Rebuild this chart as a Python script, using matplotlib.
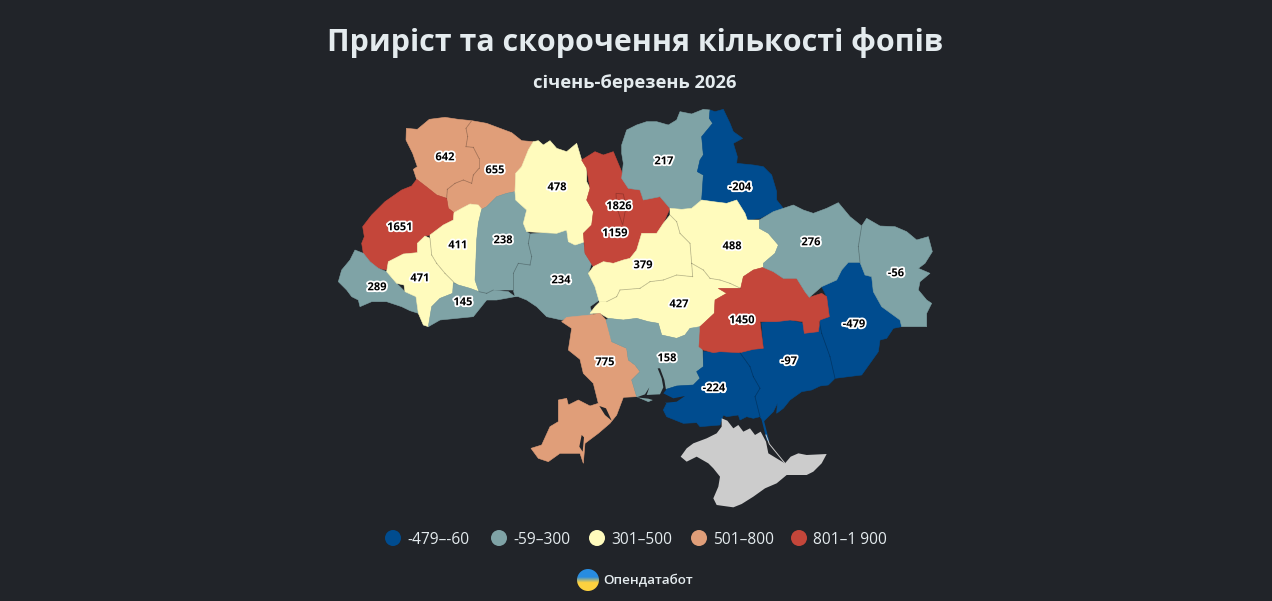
import numpy as np
import matplotlib
matplotlib.use("Agg")
import matplotlib.pyplot as plt
import matplotlib.patheffects as pe
from matplotlib.patches import Circle, Polygon


def crop(x0, y0, pts):
    return [(x0 + x / 3, y0 + y / 3) for x, y in pts]


def west(pts):
    return crop(330, 100, pts)


def east(pts):
    return crop(620, 100, pts)


def south(pts):
    return crop(520, 300, pts)


regions = ["Volyn", "Rivne", "Lviv", "Zakarpattia", "Ivano-Frankivsk", "Ternopil", "Chernivtsi",
           "Khmelnytskyi", "Vinnytsia", "Zhytomyr", "Kyiv oblast", "Kyiv", "Chernihiv", "Sumy",
           "Poltava", "Cherkasy", "Kirovohrad", "Odesa", "Mykolaiv", "Kherson", "Zaporizhzhia",
           "Donetsk", "Dnipropetrovsk", "Kharkiv", "Luhansk"]
values = [642, 655, 1651, 289, 471, 411, 145, 238, 234, 478, 1159, 1826, 217, -204,
          488, 379, 427, 775, 158, -224, -97, -479, 1450, 276, -56]
label_pos = [(445, 157), (495, 170), (400, 227), (377, 287), (420, 278), (458, 245), (463, 302),
             (503, 240), (561, 280), (557, 187), (615, 233), (619, 206), (664, 161), (740, 187),
             (732, 246), (643, 265), (679, 304), (811, 242), (896, 273), (605, 362), (667, 358),
             (714, 388), (789, 361), (854, 324), (742, 320)]
label_names = ["Volyn", "Rivne", "Lviv", "Zakarpattia", "Ivano-Frankivsk", "Ternopil", "Chernivtsi",
               "Khmelnytskyi", "Vinnytsia", "Zhytomyr", "Kyiv oblast", "Kyiv", "Chernihiv", "Sumy",
               "Poltava", "Cherkasy", "Kirovohrad", "Kharkiv", "Luhansk", "Odesa", "Mykolaiv",
               "Kherson", "Zaporizhzhia", "Donetsk", "Dnipropetrovsk"]

bin_tops = [-60, 300, 500, 800, 1900]
bin_colors = ["#004c8f", "#7fa3a6", "#fffbbd", "#e09e79", "#c4463a"]
bin_labels = ["-479–-60", "-59–300", "301–500", "501–800", "801–1 900"]
legend_x = [393, 499, 597, 699, 799]

outlines = {
    "Volyn": west([(229, 85), (262, 88), (298, 58), (345, 52), (385, 58), (425, 62), (408, 85), (413, 110),
                   (408, 140), (430, 142), (447, 175), (447, 205), (430, 225), (425, 250), (400, 240), (375, 250),
                   (352, 268), (350, 295), (320, 285), (295, 265), (260, 238), (250, 208), (262, 200), (248, 160),
                   (228, 120)]),
    "Rivne": west([(425, 62), (470, 70), (510, 85), (545, 98), (575, 122), (610, 125), (595, 150), (575, 200),
                   (557, 220), (555, 275), (530, 280), (500, 290), (470, 320), (455, 328), (445, 315), (420, 312),
                   (395, 325), (372, 338), (355, 325), (350, 295), (352, 268), (375, 250), (400, 240), (425, 250),
                   (430, 225), (447, 205), (447, 175), (430, 142), (408, 140), (413, 110), (408, 85)]),
    "Lviv": west([(260, 238), (295, 265), (320, 285), (350, 295), (355, 325), (372, 338), (370, 360), (340, 375),
                  (300, 405), (285, 408), (262, 430), (262, 458), (220, 462), (175, 485), (170, 510), (145, 505),
                  (120, 485), (100, 460), (95, 430), (103, 410), (98, 380), (125, 345), (165, 305), (215, 270),
                  (245, 258)]),
    "Zakarpattia": west([(75, 450), (100, 460), (120, 485), (145, 505), (170, 515), (200, 550), (225, 575),
                         (258, 590), (265, 640), (240, 632), (215, 620), (170, 605), (125, 605), (90, 620), (85, 600),
                         (65, 590), (50, 570), (25, 545), (35, 510), (60, 480)]),
    "Ivano-Frankivsk": west([(175, 485), (220, 462), (262, 458), (262, 430), (285, 408), (300, 415), (305, 465),
                             (320, 490), (345, 520), (370, 545), (368, 580), (330, 595), (305, 620), (295, 680),
                             (280, 675), (265, 640), (258, 590), (225, 575), (222, 555), (200, 550), (170, 515)]),
    "Ternopil": west([(300, 405), (340, 375), (370, 360), (372, 338), (395, 325), (420, 312), (445, 315),
                      (455, 328), (445, 370), (440, 420), (437, 500), (435, 540), (447, 575), (420, 565),
                      (385, 555), (370, 545), (345, 520), (320, 490), (305, 465), (300, 415)]),
    "Chernivtsi": west([(370, 548), (385, 555), (420, 565), (447, 575), (470, 580), (490, 570), (535, 575),
                        (555, 590), (500, 600), (470, 600), (430, 650), (380, 655), (330, 660), (295, 680),
                        (305, 620), (330, 595), (368, 580)]),
    "Khmelnytskyi": west([(455, 328), (470, 320), (500, 290), (530, 280), (555, 275), (557, 300), (590, 330),
                          (580, 370), (590, 395), (600, 402), (595, 430), (605, 470), (600, 495), (565, 490),
                          (550, 520), (550, 570), (490, 570), (470, 580), (447, 575), (435, 540), (437, 500),
                          (440, 420), (445, 370)]),
    "Vinnytsia": west([(600, 402), (640, 398), (680, 400), (710, 390), (715, 425), (735, 435), (760, 420),
                       (765, 460), (785, 490), (775, 520), (795, 560), (808, 600), (780, 620), (790, 650),
                       (750, 665), (720, 655), (695, 660), (650, 650), (620, 620), (590, 600), (565, 590),
                       (555, 590), (550, 570), (550, 520), (565, 490), (600, 495), (605, 470), (595, 430)]),
    "Zhytomyr": west([(610, 125), (625, 122), (640, 135), (660, 122), (680, 145), (710, 155), (740, 130),
                      (755, 180), (770, 205), (770, 245), (780, 265), (770, 300), (790, 335), (785, 375),
                      (760, 400), (765, 425), (735, 435), (715, 425), (710, 390), (680, 400), (640, 398),
                      (590, 395), (580, 370), (590, 330), (557, 300), (555, 275), (557, 220), (575, 200),
                      (595, 150)]),
    "Kyiv oblast": west([(755, 180), (795, 155), (820, 165), (850, 155), (875, 215), (895, 265)])
    + east([(25, 265), (60, 270), (70, 300), (120, 290), (150, 325), (130, 370), (110, 400), (65, 400),
            (50, 450), (30, 475)])
    + west([(880, 480), (850, 490), (820, 485), (790, 500), (765, 460), (760, 400), (785, 375), (790, 335),
            (770, 300), (780, 265), (770, 205)]),
    "Kyiv": west([(858, 280), (880, 282), (888, 320), (878, 375), (868, 345), (860, 320)]),
    "Chernihiv": east([(5, 135), (20, 90), (50, 75), (80, 65), (110, 65), (145, 75), (170, 60), (180, 35),
                       (215, 42), (250, 28), (270, 30), (268, 55), (278, 70), (245, 110), (250, 165), (240, 180),
                       (232, 215), (250, 225), (245, 300), (215, 325), (185, 328), (150, 325), (120, 290),
                       (70, 300), (60, 270), (25, 265), (5, 235), (10, 190), (5, 160)]),
    "Sumy": east([(270, 30), (285, 35), (310, 28), (330, 70), (340, 95), (368, 115), (340, 130), (352, 170),
                  (350, 190), (400, 195), (430, 200), (455, 225), (470, 275), (470, 300), (490, 325), (460, 335),
                  (420, 355), (382, 360), (375, 340), (350, 300), (320, 310), (280, 305), (245, 300), (250, 225),
                  (232, 215), (240, 180), (250, 165), (245, 110), (278, 70), (268, 55)]),
    "Poltava": east([(150, 325), (185, 328), (215, 325), (245, 300), (280, 305), (320, 310), (350, 300), (375, 340),
                     (382, 360), (418, 360), (418, 385), (445, 400), (475, 435), (465, 460), (430, 490), (430, 502),
                     (400, 510), (370, 530), (362, 565), (330, 550), (300, 540), (270, 535), (250, 510), (215, 490),
                     (210, 430), (180, 400), (170, 365), (150, 345)]),
    "Cherkasy": east([(150, 345), (170, 365), (180, 400), (210, 430), (215, 490), (218, 530), (170, 525),
                      (130, 540), (90, 545), (60, 565)])
    + west([(930, 565), (870, 570), (860, 590), (830, 605), (808, 605), (795, 560), (775, 520), (790, 500),
            (820, 485), (850, 490), (880, 480)])
    + east([(30, 475), (50, 450), (65, 400), (110, 400), (130, 370)]),
    "Kirovohrad": east([(218, 530), (215, 490), (250, 510), (270, 535), (300, 540), (330, 550), (362, 565),
                        (295, 565), (320, 580), (285, 600), (283, 640), (240, 680)])
    + south([(530, 85), (510, 85), (495, 105), (470, 115), (425, 105), (415, 70), (385, 65), (350, 55), (310, 60),
             (265, 55), (240, 40), (210, 40), (225, 20), (240, 5)])
    + west([(830, 605), (860, 590), (870, 570), (930, 565)])
    + east([(60, 565), (90, 545), (130, 540), (170, 525)]),
    "Odesa": south([(125, 65), (140, 52), (210, 45), (240, 40), (258, 60), (275, 110), (275, 125), (320, 145),
                    (325, 180), (345, 195), (360, 215), (335, 240), (350, 290), (310, 292), (290, 345), (270, 370),
                    (235, 400), (195, 430), (190, 490), (180, 460), (120, 460), (85, 485), (55, 475), (33, 445),
                    (65, 435), (90, 380), (115, 365), (115, 300), (140, 295), (145, 315), (175, 300), (210, 318),
                    (235, 310), (220, 250), (190, 220), (180, 178), (145, 150), (155, 85)]),
    "Mykolaiv": south([(265, 55), (310, 60), (350, 55), (385, 65), (415, 70), (425, 105), (470, 115), (495, 105),
                       (510, 85), (540, 80), (548, 155), (550, 200), (530, 215), (540, 235), (520, 255), (470, 258),
                       (432, 270), (420, 290), (385, 305), (350, 290), (335, 240), (360, 215), (345, 195), (325, 180),
                       (320, 145), (275, 125), (258, 60)]),
    "Kherson": south([(550, 155), (600, 155), (660, 158), (690, 200), (700, 230), (720, 265), (705, 290), (720, 350),
                      (700, 355), (680, 350), (660, 360), (655, 345), (620, 350), (610, 345), (600, 375), (540, 380),
                      (530, 368), (490, 370), (440, 350), (430, 330), (440, 310), (420, 290), (432, 270), (470, 258),
                      (520, 255), (540, 235), (530, 215), (550, 200)]),
    "Zaporizhzhia": south([(725, 68), (770, 60), (810, 60), (850, 70), (860, 95), (895, 95), (898, 65), (905, 100),
                           (930, 170), (945, 235), (925, 255), (900, 258), (875, 270), (845, 275), (810, 300),
                           (790, 325), (770, 340), (772, 310), (760, 335), (730, 365), (720, 350), (705, 290),
                           (720, 265), (700, 230), (690, 200), (660, 158), (700, 148), (730, 145)]),
    "Donetsk": east([(605, 560), (650, 540), (665, 510), (685, 487), (720, 487), (735, 525), (755, 530), (760, 575),
                     (785, 620), (840, 660), (845, 680), (820, 685), (800, 715), (780, 720), (775, 755), (725, 825),
                     (645, 835)])
    + south([(945, 235), (930, 170), (905, 100), (898, 65), (900, 55)])
    + east([(600, 660), (628, 650), (620, 590)]),
    "Dnipropetrovsk": east([(295, 565), (362, 565), (370, 530), (400, 510), (430, 502), (460, 515), (490, 535),
                            (530, 535), (555, 575), (568, 592), (605, 580), (620, 590), (628, 650), (600, 660),
                            (595, 695), (553, 700), (548, 665), (510, 660), (470, 665), (420, 665)])
    + south([(730, 145), (700, 148), (660, 158), (600, 155), (580, 158), (550, 150), (537, 140), (540, 95), (540, 80)])
    + east([(283, 640), (285, 600), (320, 580)]),
    "Kharkiv": east([(418, 360), (460, 335), (490, 325), (520, 315), (550, 330), (580, 340), (620, 325), (655, 308),
                     (690, 350), (725, 378), (715, 440), (720, 487), (685, 487), (665, 510), (650, 540), (605, 560),
                     (568, 592), (555, 575), (530, 535), (490, 535), (460, 515), (430, 502), (430, 490), (465, 460),
                     (475, 435), (445, 400), (418, 385)]),
    "Luhansk": east([(725, 378), (740, 355), (780, 378), (825, 380), (860, 395), (890, 420), (925, 410), (937, 455),
                     (915, 490), (895, 505), (930, 520), (900, 545), (895, 570), (920, 600), (935, 610), (920, 640),
                     (920, 680), (845, 680), (840, 660), (785, 620), (760, 575), (755, 530), (735, 525), (720, 487),
                     (715, 440)]),
}

crimea = south([(605, 355), (622, 362), (640, 385), (655, 375), (670, 395), (690, 385), (705, 405), (722, 395),
                (738, 425), (745, 460), (778, 480), (795, 490), (812, 470), (835, 460), (860, 465), (920, 462),
                (905, 490), (880, 515), (860, 525), (800, 525), (770, 550), (735, 565), (700, 590), (665, 612),
                (640, 622), (590, 615), (580, 595), (595, 560), (600, 530), (580, 505), (565, 490), (530, 470),
                (500, 485), (482, 470), (500, 445), (520, 430), (560, 415), (590, 400), (605, 380)])
water = [
    south([(350, 292), (375, 283), (388, 262), (380, 285), (420, 283), (430, 262), (425, 235), (413, 205), (420, 205),
           (433, 240), (438, 270), (430, 280), (460, 295), (495, 288), (470, 305), (440, 308), (415, 305), (385, 296)]),
    south([(238, 318), (258, 325), (275, 362), (255, 345)]),
    south([(185, 405), (192, 412), (188, 455), (178, 440)]),
]
spit = south([(725, 360), (732, 362), (748, 425), (740, 420)])
arabat = south([(738, 405), (748, 432), (795, 490)])

bg = "#212429"
text_col = "#e4ebee"

plt.rcParams["font.family"] = ["Open Sans", "DejaVu Sans"]

fig = plt.figure(figsize=(12.72, 6.01), dpi=100, facecolor=bg)
ax = fig.add_axes([0, 0, 1, 1])
ax.set_xlim(0, 1272)
ax.set_ylim(601, 0)
ax.axis("off")

region_cols = {}
for name, val in zip(regions, values):
    region_cols[name] = bin_colors[np.searchsorted(bin_tops, val)]
    ax.add_patch(Polygon(outlines[name], closed=True, facecolor=region_cols[name],
                         edgecolor=region_cols[name], lw=0.4, zorder=2))
ax.add_patch(Polygon(outlines["Kyiv"], closed=True, facecolor="none", edgecolor="#00000038", lw=0.6, zorder=2.5))
ax.add_patch(Polygon(crimea, closed=True, facecolor="#cccccc", edgecolor="none", zorder=2))
ax.add_patch(Polygon(spit, closed=True, facecolor=bin_colors[0], edgecolor="none", zorder=2))
for w in water:
    ax.add_patch(Polygon(w, closed=True, facecolor=bg, edgecolor="none", zorder=3))
ax.plot(*zip(*arabat), color="#cccccc", lw=0.7, zorder=3)


# thin line only where two regions of the same colour meet
def edges_of(pts):
    pts = [(round(x, 2), round(y, 2)) for x, y in pts]
    return list(zip(pts, pts[1:] + pts[:1]))


for i, a in enumerate(regions):
    for b in regions[i + 1:]:
        if region_cols[a] != region_cols[b]:
            continue
        other = set(edges_of(outlines[b]))
        for p, q in edges_of(outlines[a]):
            if (q, p) in other or (p, q) in other:
                ax.plot([p[0], q[0]], [p[1], q[1]], color="#00000038", lw=0.6, zorder=2.5)

by_name = dict(zip(regions, values))
for name, (x, y) in zip(label_names, label_pos):
    ax.text(x, y + 0.8, str(by_name[name]), ha="center", va="center", fontsize=8, fontweight="bold", color="black",
            zorder=5, path_effects=[pe.withStroke(linewidth=2.6, foreground="white")])

ax.text(635, 42.5, "Приріст та скорочення кількості фопів", ha="center", va="center", fontsize=21.9,
        fontweight="bold", color=text_col)
ax.text(635, 82.5, "січень-березень 2026", ha="center", va="center", fontsize=13.2, fontweight="bold",
        color=text_col)

for x, col, lab in zip(legend_x, bin_colors, bin_labels):
    ax.add_patch(Circle((x, 538), 8, facecolor=col, edgecolor="none"))
    ax.text(x + 14, 539.5, lab, ha="left", va="center", fontsize=11.2, color=text_col)

# logo: round badge, blue on top fading to yellow at the bottom
grad = np.zeros((40, 1, 3))
top = np.array([0.16, 0.55, 0.88])
mid = np.array([0.99, 0.82, 0.25])
for i in range(40):
    t = 0 if i < 14 else min((i - 14) / 10, 1)
    grad[i, 0] = top * (1 - t) + mid * t
img = ax.imshow(grad, extent=(577, 599, 591, 569), aspect="auto", zorder=4)
img.set_clip_path(Circle((588, 580), 11, transform=ax.transData))
ax.set_xlim(0, 1272)
ax.set_ylim(601, 0)
ax.text(603, 581, "Опендатабот", ha="left", va="center", fontsize=9.7, fontweight="semibold", color=text_col)

fig.savefig("out.png", dpi=100, facecolor=bg)
